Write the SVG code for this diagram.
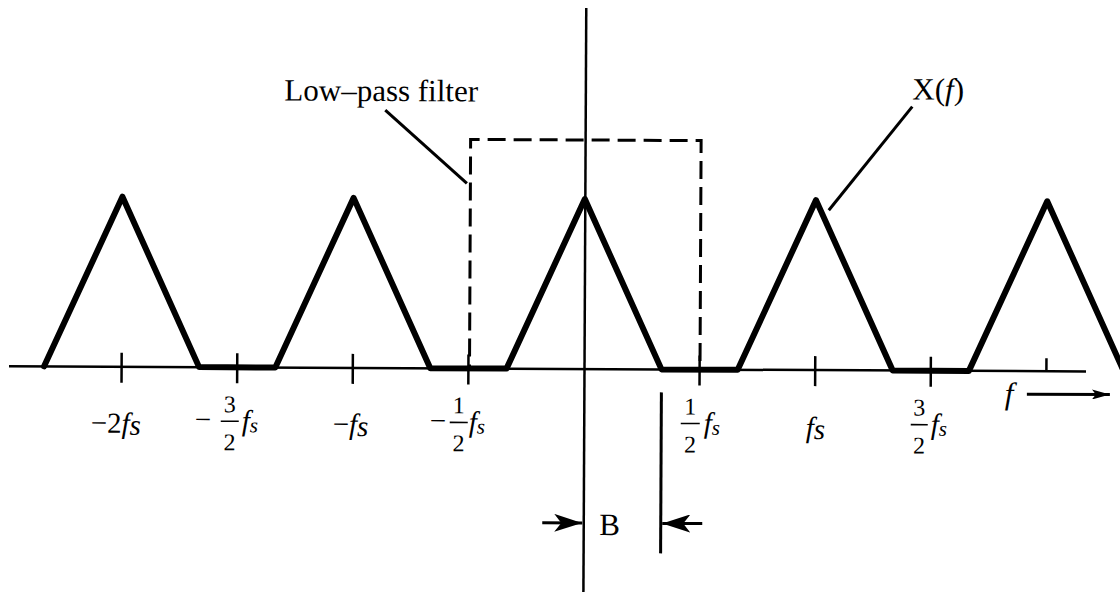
<svg xmlns="http://www.w3.org/2000/svg" width="1120" height="600" viewBox="0 0 1120 600">
<style>
.thick{stroke:#000;stroke-width:6;fill:none;stroke-linejoin:round;stroke-linecap:round}
.axis{stroke:#000;stroke-width:2.5;fill:none}
.thin{stroke:#000;stroke-width:3;fill:none}
.bar{stroke:#000;stroke-width:1.6}
.dash{stroke:#000;stroke-width:3;fill:none;stroke-dasharray:18 8;stroke-dashoffset:14}
text,tspan{font-family:"Liberation Serif","Times New Roman",serif;fill:#000}
.it{font-style:italic}
.big{font-size:31px}
.lab{font-size:29px}
.num{font-size:24px;text-anchor:middle}
</style>
<defs>
<marker id="barb" viewBox="0 0 28 18" refX="28" refY="9" markerWidth="28" markerHeight="18" markerUnits="userSpaceOnUse" orient="auto">
<path d="M0,0 L28,9 L0,18 L7,9 Z" fill="#000"/>
</marker>
<marker id="head" viewBox="0 0 18 10" refX="18" refY="5" markerWidth="18" markerHeight="10" markerUnits="userSpaceOnUse" orient="auto">
<path d="M0,0 L18,5 L0,10 L4,5 Z" fill="#000"/>
</marker>
</defs>
<rect width="1120" height="600" fill="#fff"/>
<g transform="rotate(0.28 584 369)">
<g id="axes">
<line class="axis" x1="9" y1="369" x2="1086" y2="369"/>
<line class="axis" x1="584.5" y1="8" x2="584.5" y2="592"/>
<path class="axis" d="M121.6,355V385M237.2,355V385M352.8,355V385M468.4,355V385M699.6,355V385M815.2,355V385M930.8,355V385M1046.4,356V369"/>
</g>
<g id="spectrum">
<path class="thick" d="M44.1,369 L121.6,199 L199.1,369 L275.3,369 L352.8,199 L430.3,369 L506.5,369 L584,199 L661.5,369 L737.7,369 L815.2,199 L892.7,369 L968.9,369 L1046.4,199 L1123.9,369"/>
</g>
<g id="filter">
<path class="dash" d="M469.5,369 V140 H700 V369"/>
</g>
<g id="title-filter">
<text class="big" x="283" y="102">Low–pass filter</text>
</g>
<g id="title-xf">
<text class="big" x="911" y="98">X(<tspan class="it">f</tspan>)</text>
</g>
<g id="tick-labels">
<text class="lab" x="91" y="435">−2<tspan class="it">f</tspan><tspan class="it" dy="2">s</tspan></text>
<text class="lab" x="195" y="431">−</text>
<text class="num" x="230" y="414">3</text>
<line class="bar" x1="221" y1="423" x2="239" y2="423"/>
<text class="num" x="230" y="452">2</text>
<text class="lab it" x="242" y="432">f<tspan font-size="21" dy="2">s</tspan></text>
<text class="lab" x="333" y="435">−<tspan class="it">f</tspan><tspan class="it" dy="2">s</tspan></text>
<text class="lab" x="430" y="431">−</text>
<text class="num" x="459" y="414">1</text>
<line class="bar" x1="450" y1="423" x2="468" y2="423"/>
<text class="num" x="459" y="452">2</text>
<text class="lab it" x="469" y="432">f<tspan font-size="21" dy="2">s</tspan></text>
<text class="num" x="690.5" y="414">1</text>
<line class="bar" x1="681" y1="423" x2="700" y2="423"/>
<text class="num" x="690.5" y="452">2</text>
<text class="lab it" x="704" y="432">f<tspan font-size="21" dy="2">s</tspan></text>
<text class="lab it" x="806" y="436">f<tspan dy="2">s</tspan></text>
<text class="num" x="919.5" y="414">3</text>
<line class="bar" x1="911" y1="423" x2="928" y2="423"/>
<text class="num" x="919.5" y="452">2</text>
<text class="lab it" x="931" y="432">f<tspan font-size="21" dy="2">s</tspan></text>
<text class="big it" x="1005" y="402">f</text>
</g>
<g id="bandwidth">
<text class="big" x="600" y="535">B</text>
<line class="thin" x1="661.5" y1="392" x2="661.5" y2="553"/>
</g>
<g id="connectors">
<line class="thin" x1="384" y1="111" x2="466" y2="184"/>
<line class="thin" x1="911" y1="105" x2="828" y2="209"/>
<line class="thin" x1="543" y1="523" x2="583" y2="523" marker-end="url(#barb)"/>
<line class="thin" x1="703" y1="523" x2="663" y2="523" marker-end="url(#barb)"/>
<line class="thin" x1="1027" y1="392" x2="1110" y2="392" marker-end="url(#head)"/>
</g>
</g>
</svg>
